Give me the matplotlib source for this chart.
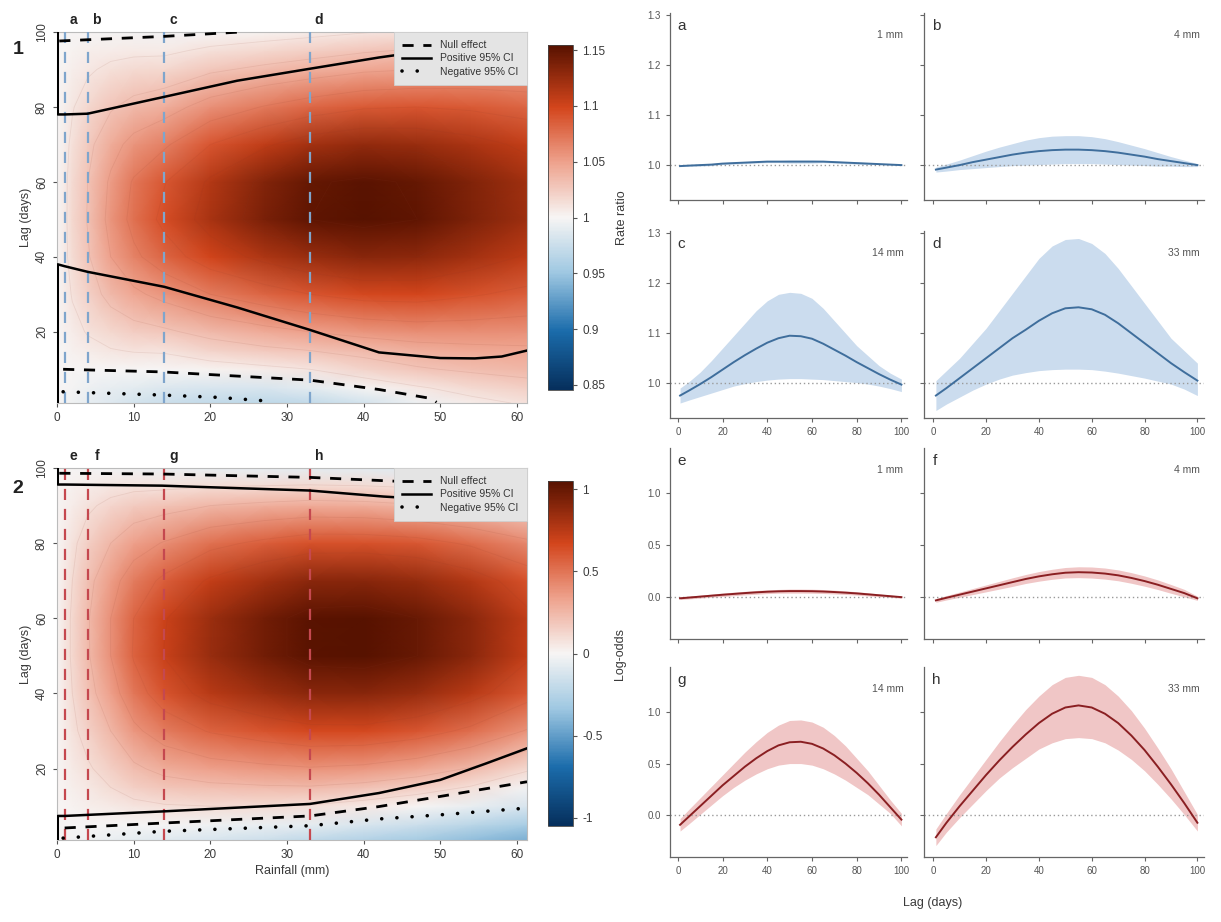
import numpy as np
import matplotlib
matplotlib.use("Agg")
import matplotlib.pyplot as plt
from matplotlib.colors import LinearSegmentedColormap, Normalize
from matplotlib.cm import ScalarMappable
from matplotlib.lines import Line2D

# ---------------- data ----------------
rain_grid = [0, 1, 2, 4, 7, 10, 14, 20, 27, 33, 40, 47, 54, 61.3]
lag_grid = [1, 5, 10, 15, 20, 30, 40, 50, 60, 70, 80, 90, 95, 100]

# rate ratio surface (rows = lag, cols = rainfall)
rr_surface = [
    [1.000, 0.998, 0.996, 0.991, 0.986, 0.980, 0.975, 0.970, 0.968, 0.970, 0.980, 0.995, 1.005, 1.012],
    [1.000, 0.999, 0.998, 0.995, 0.991, 0.988, 0.985, 0.982, 0.983, 0.988, 0.998, 1.008, 1.016, 1.022],
    [1.000, 1.000, 1.000, 1.000, 1.000, 1.000, 0.999, 1.002, 1.006, 1.010, 1.020, 1.028, 1.033, 1.037],
    [1.000, 1.001, 1.003, 1.006, 1.009, 1.011, 1.012, 1.020, 1.026, 1.030, 1.036, 1.042, 1.045, 1.047],
    [1.000, 1.003, 1.006, 1.011, 1.018, 1.023, 1.027, 1.036, 1.044, 1.050, 1.056, 1.060, 1.060, 1.059],
    [1.000, 1.005, 1.011, 1.021, 1.036, 1.046, 1.056, 1.070, 1.081, 1.090, 1.097, 1.098, 1.092, 1.085],
    [1.000, 1.007, 1.015, 1.028, 1.050, 1.066, 1.081, 1.100, 1.115, 1.125, 1.132, 1.130, 1.120, 1.108],
    [1.000, 1.007, 1.017, 1.031, 1.056, 1.076, 1.095, 1.118, 1.138, 1.150, 1.155, 1.150, 1.137, 1.122],
    [1.000, 1.007, 1.016, 1.030, 1.053, 1.072, 1.089, 1.113, 1.134, 1.148, 1.153, 1.148, 1.136, 1.121],
    [1.000, 1.006, 1.013, 1.025, 1.043, 1.056, 1.067, 1.090, 1.107, 1.120, 1.127, 1.125, 1.117, 1.106],
    [1.000, 1.004, 1.009, 1.017, 1.028, 1.036, 1.042, 1.058, 1.071, 1.080, 1.088, 1.090, 1.087, 1.082],
    [1.000, 1.002, 1.004, 1.008, 1.013, 1.016, 1.018, 1.027, 1.034, 1.040, 1.047, 1.050, 1.052, 1.052],
    [1.000, 1.001, 1.002, 1.004, 1.006, 1.007, 1.007, 1.013, 1.018, 1.022, 1.028, 1.032, 1.035, 1.036],
    [1.000, 0.999, 0.999, 0.999, 0.998, 0.998, 0.997, 1.000, 1.002, 1.005, 1.009, 1.013, 1.017, 1.020],
]

# log-odds surface (rows = lag, cols = rainfall)
lo_surface = [
    [0.0, -0.010, -0.020, -0.030, -0.050, -0.070, -0.090, -0.120, -0.160, -0.210, -0.260, -0.310, -0.370, -0.430],
    [0.0, -0.003, -0.004, -0.005, -0.007, -0.009, -0.010, -0.030, -0.050, -0.070, -0.120, -0.170, -0.230, -0.300],
    [0.0, 0.006, 0.012, 0.025, 0.045, 0.070, 0.090, 0.100, 0.100, 0.090, 0.050, 0.000, -0.050, -0.120],
    [0.0, 0.015, 0.030, 0.055, 0.100, 0.150, 0.190, 0.220, 0.235, 0.240, 0.210, 0.160, 0.090, -0.020],
    [0.0, 0.024, 0.045, 0.085, 0.150, 0.225, 0.290, 0.340, 0.370, 0.390, 0.370, 0.320, 0.240, 0.120],
    [0.0, 0.040, 0.075, 0.145, 0.250, 0.370, 0.470, 0.560, 0.620, 0.660, 0.660, 0.610, 0.520, 0.390],
    [0.0, 0.053, 0.100, 0.200, 0.340, 0.490, 0.620, 0.750, 0.830, 0.890, 0.900, 0.850, 0.750, 0.600],
    [0.0, 0.059, 0.115, 0.235, 0.400, 0.560, 0.705, 0.850, 0.960, 1.040, 1.050, 1.000, 0.890, 0.720],
    [0.0, 0.058, 0.115, 0.237, 0.400, 0.550, 0.690, 0.840, 0.960, 1.040, 1.050, 1.000, 0.890, 0.730],
    [0.0, 0.050, 0.100, 0.210, 0.350, 0.470, 0.580, 0.720, 0.820, 0.890, 0.900, 0.860, 0.770, 0.630],
    [0.0, 0.037, 0.075, 0.155, 0.250, 0.340, 0.410, 0.510, 0.580, 0.630, 0.630, 0.600, 0.530, 0.430],
    [0.0, 0.019, 0.038, 0.080, 0.130, 0.170, 0.200, 0.250, 0.280, 0.300, 0.290, 0.260, 0.210, 0.140],
    [0.0, 0.010, 0.020, 0.040, 0.060, 0.075, 0.080, 0.100, 0.110, 0.120, 0.110, 0.090, 0.050, 0.000],
    [0.0, 0.001, -0.002, -0.010, -0.020, -0.030, -0.040, -0.050, -0.060, -0.070, -0.080, -0.090, -0.100, -0.120],
]

# significance contour lines (rainfall, lag)
hm1_pos_top_x = [0.1, 0.1, 1, 4, 14, 23.5, 33, 42, 50, 56, 61.3]
hm1_pos_top_y = [100, 78, 78, 78.2, 82.7, 87, 90.2, 93.2, 95.5, 97, 98.5]
hm1_pos_bot_x = [0.1, 0.1, 1, 4, 14, 23.5, 33, 42, 50, 54.5, 58, 61.3]
hm1_pos_bot_y = [1, 38, 37.5, 36, 32, 26.5, 20.5, 14.5, 13, 12.9, 13.4, 15]
hm1_null_top_x = [0.3, 13.7, 24]
hm1_null_top_y = [97.6, 98.8, 100]
hm1_null_bot_x = [0.8, 13.7, 33, 42, 48.8, 49.5]
hm1_null_bot_y = [10, 9.3, 7.1, 4.6, 2.2, 1.2]
hm1_neg_x = [0.8, 14, 21, 27]
hm1_neg_y = [4, 3.1, 2.5, 1.6]

hm2_pos_top_x = [0.1, 0.1, 1, 13.7, 33, 42.6, 50, 61.3]
hm2_pos_top_y = [100, 95.6, 95.6, 95.3, 94, 92.4, 91.5, 90.5]
hm2_pos_bot_x = [0.1, 0.1, 1, 13.7, 33, 42, 50, 56, 61.3]
hm2_pos_bot_y = [1, 7.4, 7.4, 8.6, 10.6, 13.5, 17, 21.4, 25.4]
hm2_null_top_x = [0.3, 13.7, 33, 47.3, 61.3]
hm2_null_top_y = [98.6, 98.4, 97.5, 96.2, 95]
hm2_null_bot_x = [1, 13.7, 33, 42, 50, 61.3]
hm2_null_bot_y = [4.2, 5.5, 7.4, 9.9, 12.6, 16.5]
hm2_neg_x = [0.8, 13.7, 33, 42, 50, 61.3]
hm2_neg_y = [1.5, 3.3, 4.8, 6.6, 7.7, 9.5]

slice_mm = [1, 4, 14, 33]
slice_letters_top = ["a", "b", "c", "d"]
slice_letters_bot = ["e", "f", "g", "h"]

# lag-response curves
lag_days = [1, 5, 10, 15, 20, 25, 30, 35, 40, 45, 50, 55, 60, 65, 70, 75, 80, 85, 90, 95, 100]

rr_a = [0.998, 0.999, 1.000, 1.001, 1.003, 1.004, 1.005, 1.006, 1.007, 1.007, 1.007, 1.007, 1.007, 1.007, 1.006, 1.005, 1.004, 1.003, 1.002, 1.001, 1.000]
rr_a_hi = [0.999, 1.000, 1.002, 1.003, 1.005, 1.006, 1.007, 1.008, 1.009, 1.009, 1.010, 1.010, 1.010, 1.009, 1.008, 1.007, 1.006, 1.005, 1.003, 1.002, 1.001]
rr_a_lo = [0.997, 0.998, 0.998, 0.999, 1.001, 1.002, 1.003, 1.004, 1.005, 1.005, 1.004, 1.004, 1.004, 1.005, 1.004, 1.003, 1.002, 1.001, 1.001, 1.000, 0.999]

rr_b = [0.991, 0.995, 1.000, 1.006, 1.011, 1.016, 1.021, 1.025, 1.028, 1.030, 1.031, 1.031, 1.030, 1.028, 1.025, 1.021, 1.017, 1.012, 1.008, 1.004, 1.000]
rr_b_hi = [0.996, 1.002, 1.010, 1.019, 1.028, 1.036, 1.043, 1.050, 1.055, 1.058, 1.059, 1.059, 1.057, 1.053, 1.047, 1.040, 1.033, 1.025, 1.017, 1.010, 1.003]
rr_b_lo = [0.986, 0.988, 0.991, 0.993, 0.995, 0.997, 0.999, 1.000, 1.001, 1.002, 1.003, 1.003, 1.003, 1.002, 1.001, 1.000, 0.999, 0.998, 0.998, 0.997, 0.997]

rr_c = [0.975, 0.985, 0.998, 1.012, 1.027, 1.042, 1.056, 1.069, 1.081, 1.090, 1.095, 1.094, 1.089, 1.079, 1.067, 1.055, 1.042, 1.030, 1.018, 1.007, 0.997]
rr_c_hi = [0.990, 1.003, 1.022, 1.045, 1.070, 1.095, 1.120, 1.145, 1.165, 1.178, 1.182, 1.180, 1.170, 1.150, 1.125, 1.100, 1.075, 1.055, 1.035, 1.020, 1.008]
rr_c_lo = [0.960, 0.966, 0.973, 0.980, 0.987, 0.994, 0.999, 1.003, 1.006, 1.008, 1.009, 1.009, 1.008, 1.007, 1.005, 1.003, 1.001, 0.998, 0.994, 0.989, 0.983]

rr_d = [0.975, 0.990, 1.010, 1.030, 1.050, 1.070, 1.090, 1.107, 1.125, 1.140, 1.150, 1.152, 1.148, 1.137, 1.120, 1.100, 1.080, 1.060, 1.040, 1.022, 1.005]
rr_d_hi = [1.005, 1.025, 1.050, 1.080, 1.110, 1.145, 1.180, 1.215, 1.250, 1.275, 1.288, 1.290, 1.280, 1.260, 1.230, 1.195, 1.160, 1.125, 1.090, 1.065, 1.040]
rr_d_lo = [0.945, 0.958, 0.972, 0.986, 0.998, 1.008, 1.016, 1.021, 1.025, 1.027, 1.028, 1.028, 1.027, 1.024, 1.020, 1.015, 1.010, 1.004, 0.998, 0.988, 0.975]

lo_e = [-0.010, -0.003, 0.006, 0.015, 0.024, 0.032, 0.040, 0.047, 0.053, 0.057, 0.059, 0.059, 0.058, 0.055, 0.050, 0.044, 0.037, 0.028, 0.019, 0.010, 0.001]
lo_e_hi = [0.002, 0.010, 0.020, 0.030, 0.040, 0.049, 0.057, 0.065, 0.071, 0.075, 0.078, 0.078, 0.077, 0.074, 0.068, 0.061, 0.053, 0.043, 0.032, 0.021, 0.011]
lo_e_lo = [-0.022, -0.016, -0.008, 0.000, 0.008, 0.015, 0.023, 0.029, 0.035, 0.039, 0.040, 0.040, 0.039, 0.036, 0.032, 0.027, 0.021, 0.013, 0.006, -0.001, -0.009]

lo_f = [-0.030, -0.005, 0.025, 0.055, 0.085, 0.115, 0.145, 0.175, 0.200, 0.220, 0.235, 0.240, 0.237, 0.227, 0.210, 0.185, 0.155, 0.120, 0.080, 0.040, -0.010]
lo_f_hi = [-0.012, 0.016, 0.050, 0.084, 0.118, 0.152, 0.186, 0.218, 0.246, 0.268, 0.285, 0.292, 0.290, 0.280, 0.262, 0.236, 0.204, 0.166, 0.122, 0.076, 0.010]
lo_f_lo = [-0.048, -0.026, 0.000, 0.026, 0.052, 0.078, 0.104, 0.132, 0.154, 0.172, 0.185, 0.188, 0.184, 0.174, 0.158, 0.134, 0.106, 0.074, 0.038, 0.004, -0.030]

lo_g = [-0.090, -0.010, 0.090, 0.190, 0.290, 0.380, 0.470, 0.550, 0.620, 0.675, 0.705, 0.710, 0.690, 0.645, 0.580, 0.500, 0.410, 0.310, 0.200, 0.080, -0.040]
lo_g_hi = [-0.030, 0.060, 0.170, 0.280, 0.390, 0.500, 0.610, 0.710, 0.800, 0.870, 0.915, 0.920, 0.900, 0.850, 0.770, 0.670, 0.550, 0.430, 0.290, 0.150, 0.020]
lo_g_lo = [-0.150, -0.080, 0.010, 0.100, 0.190, 0.270, 0.340, 0.400, 0.450, 0.485, 0.500, 0.500, 0.485, 0.450, 0.400, 0.340, 0.270, 0.200, 0.110, 0.020, -0.100]

lo_h = [-0.210, -0.070, 0.090, 0.240, 0.390, 0.530, 0.660, 0.780, 0.890, 0.980, 1.040, 1.060, 1.040, 0.980, 0.890, 0.770, 0.630, 0.470, 0.300, 0.120, -0.070]
lo_h_hi = [-0.130, 0.020, 0.200, 0.370, 0.540, 0.710, 0.870, 1.020, 1.150, 1.260, 1.330, 1.350, 1.330, 1.260, 1.150, 1.010, 0.840, 0.650, 0.450, 0.230, 0.010]
lo_h_lo = [-0.290, -0.160, -0.020, 0.110, 0.240, 0.360, 0.460, 0.550, 0.640, 0.700, 0.740, 0.750, 0.740, 0.700, 0.630, 0.540, 0.430, 0.300, 0.160, 0.010, -0.150]

rr_cb_ticks = [0.85, 0.9, 0.95, 1, 1.05, 1.1, 1.15]
rr_cb_labels = ["0.85", "0.9", "0.95", "1", "1.05", "1.1", "1.15"]
lo_cb_ticks = [-1, -0.5, 0, 0.5, 1]
lo_cb_labels = ["-1", "-0.5", "0", "0.5", "1"]

# ---------------- style ----------------
W, H = 1221, 922
fig = plt.figure(figsize=(W / 100, H / 100), dpi=100)
plt.rcParams['font.family'] = ['Liberation Sans', 'DejaVu Sans']

cmap = LinearSegmentedColormap.from_list("div", [
    (0.00, "#062f5c"),
    (0.17, "#1b6cab"),
    (0.34, "#9fc8e2"),
    (0.50, "#f7f5f4"),
    (0.66, "#eea28d"),
    (0.82, "#d3451c"),
    (1.00, "#571200"),
])


def ax_px(l, t, r, b):
    return fig.add_axes([l / W, 1 - b / H, (r - l) / W, (b - t) / H])


TXT = "#3a3a3a"


def heatmap(ax, cax, Z, vmin, vmax, levels, vcol, letters, lines, cbt, cbl, cblabel, show_xlabel):
    Zs = np.array(Z)
    ax.pcolormesh(rain_grid, lag_grid, Zs, shading='gouraud', cmap=cmap,
                  vmin=vmin, vmax=vmax, rasterized=True)
    ax.contour(rain_grid, lag_grid, Zs, levels=levels, colors='#8a3a2a',
               linewidths=0.6, alpha=0.10)
    for x, lt in zip(slice_mm, letters):
        ax.axvline(x, color=vcol, lw=1.6, ls=(0, (5, 4)), zorder=3)
        ax.annotate(lt, xy=(x, 1), xycoords=('data', 'axes fraction'),
                    xytext=(6.5, 8.5), textcoords='offset points',
                    ha='center', va='center', fontsize=10, fontweight='bold', color='#222')
    (ptx, pty), (pbx, pby), (ntx, nty), (nbx, nby), (gx, gy) = lines
    kw = dict(color='black', zorder=4)
    ax.plot(ptx, pty, lw=1.8, **kw)
    ax.plot(pbx, pby, lw=1.8, **kw)
    ax.plot(ntx, nty, lw=2.0, ls=(0, (4, 3.5)), **kw)
    ax.plot(nbx, nby, lw=2.0, ls=(0, (4, 3.5)), **kw)
    ax.plot(gx, gy, lw=2.6, ls=(0, (0.01, 4.2)), dash_capstyle='round', **kw)
    ax.set_xlim(0, 61.3)
    ax.set_ylim(1, 100)
    ax.set_xticks([0, 10, 20, 30, 40, 50, 60])
    ax.set_yticks([20, 40, 60, 80, 100])
    ax.tick_params(axis='both', labelsize=8.5, colors='#555', labelcolor=TXT, length=3, width=0.8)
    for lab in ax.get_yticklabels():
        lab.set_rotation(90)
        lab.set_va('center')
    for s in ax.spines.values():
        s.set_color('#bbbbbb')
        s.set_linewidth(0.8)
    ax.set_ylabel("Lag (days)", fontsize=9, color=TXT, labelpad=3)
    if show_xlabel:
        ax.set_xlabel("Rainfall (mm)", fontsize=9, color=TXT, labelpad=3)
    handles = [Line2D([], [], color='black', lw=2.0, ls=(0, (4, 3.5))),
               Line2D([], [], color='black', lw=1.8),
               Line2D([], [], color='black', lw=2.6, ls=(0, (0.01, 4.2)), dash_capstyle='round')]
    leg = ax.legend(handles, ["Null effect", "Positive 95% CI", "Negative 95% CI"],
                    loc='upper right', bbox_to_anchor=(1.0, 1.0), borderaxespad=0.0,
                    fontsize=7.5, frameon=True, fancybox=False, framealpha=1,
                    handlelength=2.8, handletextpad=0.9, labelspacing=0.3,
                    borderpad=0.8)
    leg.get_frame().set_facecolor('#e4e4e4')
    leg.get_frame().set_edgecolor('#cfcfcf')
    leg.get_frame().set_linewidth(0.6)
    leg.set_zorder(10)
    for t in leg.get_texts():
        t.set_color('#333')
    sm = ScalarMappable(norm=Normalize(vmin, vmax), cmap=cmap)
    cb = fig.colorbar(sm, cax=cax)
    cb.set_ticks(cbt)
    cb.set_ticklabels(cbl)
    cb.ax.tick_params(labelsize=8.5, colors='#555', labelcolor=TXT, length=3, width=0.8)
    cb.outline.set_edgecolor('#444')
    cb.outline.set_linewidth(0.6)
    cb.set_label(cblabel, fontsize=9, color=TXT, labelpad=8)


# heatmap 1
ax1 = ax_px(57, 32, 527, 403)
cax1 = ax_px(548, 45, 573, 390)
heatmap(ax1, cax1, rr_surface, 0.8455, 1.1545, np.arange(1.01, 1.16, 0.02), '#7fa5cc',
        slice_letters_top,
        [(hm1_pos_top_x, hm1_pos_top_y), (hm1_pos_bot_x, hm1_pos_bot_y),
         (hm1_null_top_x, hm1_null_top_y), (hm1_null_bot_x, hm1_null_bot_y),
         (hm1_neg_x, hm1_neg_y)],
        rr_cb_ticks, rr_cb_labels, "Rate ratio", False)

# heatmap 2
ax2 = ax_px(57, 468, 527, 840)
cax2 = ax_px(548, 481, 573, 826)
heatmap(ax2, cax2, lo_surface, -1.05, 1.05, np.arange(0.1, 1.1, 0.15), '#c5484f',
        slice_letters_bot,
        [(hm2_pos_top_x, hm2_pos_top_y), (hm2_pos_bot_x, hm2_pos_bot_y),
         (hm2_null_top_x, hm2_null_top_y), (hm2_null_bot_x, hm2_null_bot_y),
         (hm2_neg_x, hm2_neg_y)],
        lo_cb_ticks, lo_cb_labels, "Log-odds", True)

fig.text(18 / W, 1 - 50 / H, "1", fontsize=14, fontweight='bold', ha='center', va='center', color='#222')
fig.text(18 / W, 1 - 488 / H, "2", fontsize=14, fontweight='bold', ha='center', va='center', color='#222')

# ---------------- right panels ----------------
panels = [
    ("a", "1 mm", rr_a, rr_a_lo, rr_a_hi, (670, 13, 907, 200), True, False, 'rr'),
    ("b", "4 mm", rr_b, rr_b_lo, rr_b_hi, (924, 13, 1204, 200), False, False, 'rr'),
    ("c", "14 mm", rr_c, rr_c_lo, rr_c_hi, (670, 231, 907, 418), True, True, 'rr'),
    ("d", "33 mm", rr_d, rr_d_lo, rr_d_hi, (924, 231, 1204, 418), False, True, 'rr'),
    ("e", "1 mm", lo_e, lo_e_lo, lo_e_hi, (670, 448, 907, 639), True, False, 'lo'),
    ("f", "4 mm", lo_f, lo_f_lo, lo_f_hi, (924, 448, 1204, 639), False, False, 'lo'),
    ("g", "14 mm", lo_g, lo_g_lo, lo_g_hi, (670, 667, 907, 857), True, True, 'lo'),
    ("h", "33 mm", lo_h, lo_h_lo, lo_h_hi, (924, 667, 1204, 857), False, True, 'lo'),
]

for letter, mm, mid, lo, hi, box, ylab, xlab, kind in panels:
    ax = ax_px(*box)
    if kind == 'rr':
        band, line, ref = '#cbdcee', '#3f6e9c', 1.0
        ax.set_ylim(0.93, 1.305)
        ax.set_yticks([1.0, 1.1, 1.2, 1.3])
        ax.set_yticklabels(["1.0", "1.1", "1.2", "1.3"])
    else:
        band, line, ref = '#f0c6c6', '#8a1f22', 0.0
        ax.set_ylim(-0.4, 1.43)
        ax.set_yticks([0.0, 0.5, 1.0])
        ax.set_yticklabels(["0.0", "0.5", "1.0"])
    ax.fill_between(lag_days, lo, hi, color=band, lw=0, zorder=1)
    ax.axhline(ref, color='#9a9a9a', lw=1.0, ls=(0, (1, 2)), zorder=2)
    ax.plot(lag_days, mid, color=line, lw=1.4, zorder=3)
    ax.set_xlim(-3.5, 102.5)
    ax.set_xticks([0, 20, 40, 60, 80, 100])
    ax.spines['top'].set_visible(False)
    ax.spines['right'].set_visible(False)
    for s in ('left', 'bottom'):
        ax.spines[s].set_color('#666')
        ax.spines[s].set_linewidth(0.9)
    ax.tick_params(axis='both', labelsize=7, colors='#666', labelcolor='#555', length=3, width=0.8)
    if not ylab:
        ax.set_yticklabels([])
    if not xlab:
        ax.set_xticklabels([])
    ax.text(0.03, 0.97, letter, transform=ax.transAxes, fontsize=11, color='#333', ha='left', va='top')
    ax.text(0.985, 0.91, mm, transform=ax.transAxes, fontsize=7.5, color='#555', ha='right', va='top')

fig.text(933 / W, 1 - 903 / H, "Lag (days)", fontsize=9, color=TXT, ha='center', va='center')

fig.savefig("out.png", dpi=100)
